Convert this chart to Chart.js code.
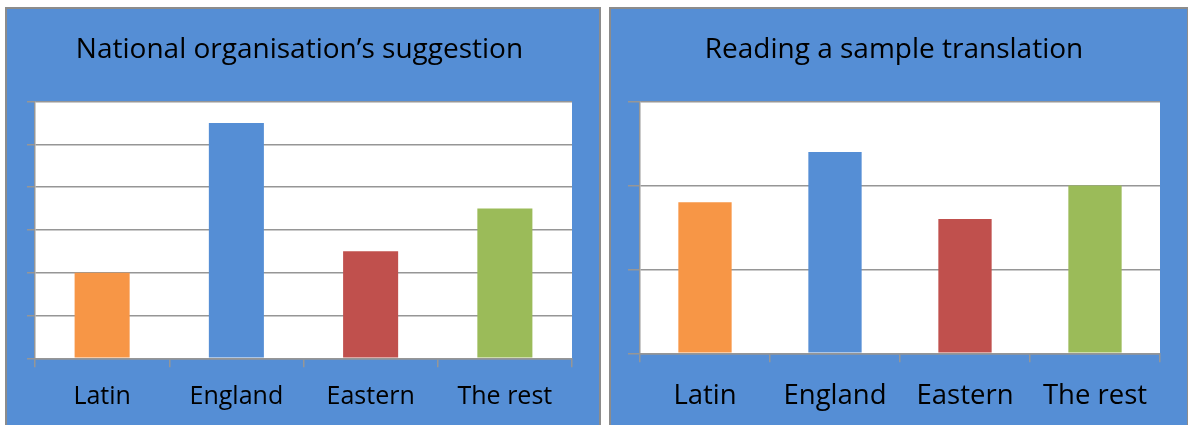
<!DOCTYPE html>
<html>
<head>
<meta charset="utf-8">
<script src="https://cdn.jsdelivr.net/npm/chart.js@4.4.1/dist/chart.umd.min.js"></script>
<style>
  html, body { margin: 0; padding: 0; background: #ffffff; }
  body { width: 1188px; height: 425px; position: relative; overflow: hidden; }
  .panel {
    position: absolute; top: 7px; height: 430px;
    background: #558ED5; border: 2px solid #8c8c8c; box-sizing: border-box;
  }
  #panelA { left: 5px; width: 596px; }
  #panelB { left: 609px; width: 579px; border-right-width: 1px; }
  canvas { position: absolute; top: 0; }
  #chartA { left: 0; }
  #chartB { left: 604px; }
</style>
</head>
<body>
<div class="panel" id="panelA"></div>
<div class="panel" id="panelB"></div>
<canvas id="chartA" width="604" height="425"></canvas>
<canvas id="chartB" width="584" height="425"></canvas>
<script>
// Categories shared by both charts
const categories = ['Latin', 'England', 'Eastern', 'The rest'];

// Left chart: national organisation's suggestion
const titleSuggestion = 'National organisation\u2019s suggestion';
const suggestionValues = [2, 5.5, 2.5, 3.5];
const suggestionMax = 6;

// Right chart: reading a sample translation
const titleSample = 'Reading a sample translation';
const sampleValues = [1.8, 2.4, 1.6, 2.0];
const sampleMax = 3;

const barColors = ['#F79646', '#558ED5', '#C0504D', '#9BBB59'];
const gridGray = '#969696';
const fontFamily = '"Open Sans", "Noto Sans", sans-serif';

// Paint the plotting area white before the grid is drawn
const plotBackground = {
  id: 'plotBackground',
  beforeDraw(chart) {
    const { ctx, chartArea: a } = chart;
    ctx.save();
    ctx.fillStyle = '#ffffff';
    ctx.fillRect(a.left, a.top, a.right - a.left, a.bottom - a.top);
    ctx.restore();
  }
};

function makeChart(id, title, values, max, cfg) {
  return new Chart(document.getElementById(id), {
    type: 'bar',
    data: {
      labels: categories,
      datasets: [{
        data: values,
        backgroundColor: barColors,
        borderWidth: 0,
        categoryPercentage: 1,
        barPercentage: 0.41
      }]
    },
    plugins: [plotBackground],
    options: {
      responsive: false,
      animation: false,
      layout: { padding: { left: cfg.padLeft, right: cfg.padRight, top: cfg.padTop, bottom: 0 } },
      plugins: {
        legend: { display: false },
        tooltip: { enabled: false },
        title: {
          display: true,
          text: title,
          color: '#000000',
          font: { family: fontFamily, size: cfg.titleSize, weight: 'normal', lineHeight: 1.2 },
          padding: { top: 0, bottom: cfg.titleGap }
        }
      },
      scales: {
        x: {
          grid: { drawOnChartArea: false, drawTicks: true, tickLength: 9, color: gridGray, lineWidth: 1.5 },
          border: { display: true, color: gridGray, width: 1.5 },
          ticks: {
            color: '#000000',
            font: { family: fontFamily, size: cfg.labelSize },
            padding: cfg.labelPad,
            maxRotation: 0
          },
          afterFit(scale) { scale.height = cfg.xHeight; }
        },
        y: {
          min: 0,
          max: max,
          grid: { color: gridGray, lineWidth: 1.5, tickLength: cfg.yTick, drawTicks: true },
          border: { display: true, color: gridGray, width: 1.5 },
          ticks: { display: false, stepSize: 1 },
          afterFit(scale) { scale.width = cfg.yTick; }
        }
      }
    }
  });
}

makeChart('chartA', titleSuggestion, suggestionValues, suggestionMax, {
  padLeft: 27, padRight: 32, padTop: 33, titleGap: 35,
  titleSize: 28, labelSize: 25, labelPad: 15, xHeight: 66.7, yTick: 8
});

makeChart('chartB', titleSample, sampleValues, sampleMax, {
  padLeft: 24, padRight: 28, padTop: 33, titleGap: 35,
  titleSize: 28, labelSize: 27.5, labelPad: 17, xHeight: 71.7, yTick: 12
});
</script>
</body>
</html>
